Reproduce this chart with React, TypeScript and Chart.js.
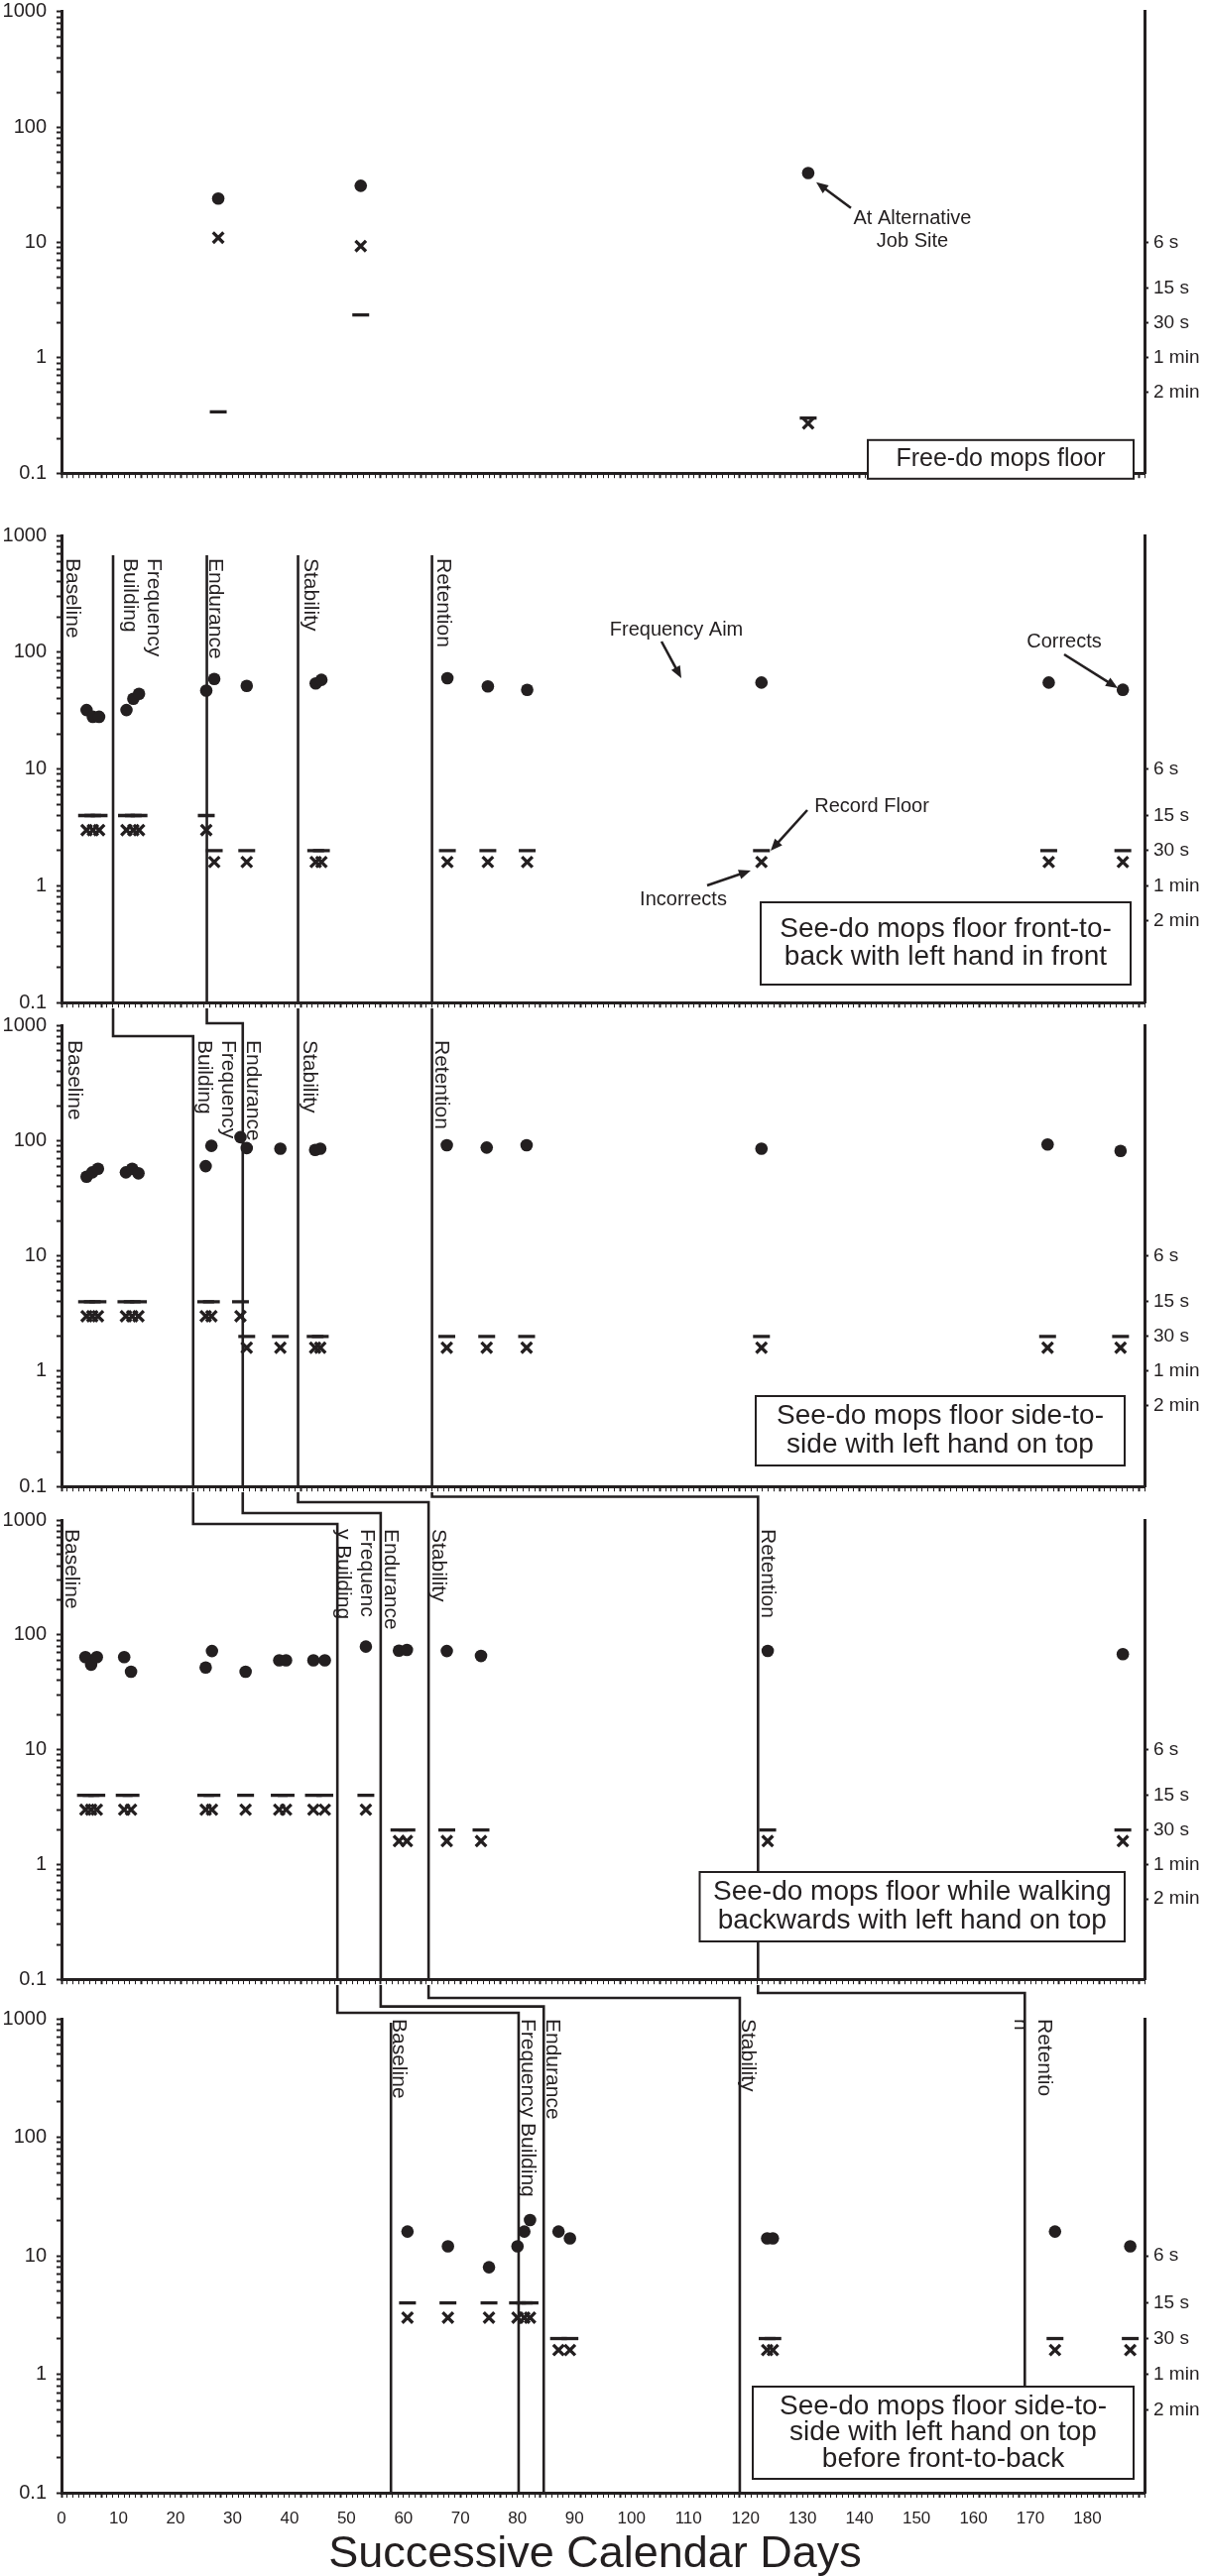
import React, { useEffect, useRef } from 'react';
import { Chart, registerables } from 'chart.js';

Chart.register(...registerables);

const INK = '#231f20';
const FONT = "'Liberation Sans', Arial, Helvetica, sans-serif";
Chart.defaults.font.family = FONT;
Chart.defaults.color = INK;

// ---------------- axes ----------------
const DAY_MIN = 0;
const DAY_MAX = 190;
const DAY_TICKS = Array.from({ length: DAY_MAX - DAY_MIN + 1 }, (_, i) => DAY_MIN + i);
const X_TICK_LABELS = [0, 10, 20, 30, 40, 50, 60, 70, 80, 90, 100, 110, 120, 130, 140, 150, 160, 170, 180];
const X_TITLE = 'Successive Calendar Days';
const Y_MIN = 0.1;
const Y_MAX = 1000;
const Y_MAJOR_VALUES = [0.1, 1, 10, 100, 1000];
const Y_MAJOR_LABELS = ['0.1', '1', '10', '100', '1000'];
const Y_MINOR_MULTIPLIERS = [2, 3, 4, 5, 6, 7, 8, 9];
const TIME_VALUES = [10, 4, 2, 1, 0.5];
const TIME_LABELS = ['6 s', '15 s', '30 s', '1 min', '2 min'];

// ---------------- panel 1: Free-do mops floor ----------------
const p1Days = [27.5, 52.5, 131];
const p1Corrects = [24, 31, 40];
const p1Incorrects = [11, 9.3, 0.27];
const p1Floors = [0.34, 2.35, 0.3];

// ---------------- panel 2: front-to-back ----------------
const p2Days = [4.4, 5.5, 6.6, 11.4, 12.6, 13.6, 25.4, 26.8, 32.5, 44.6, 45.6, 67.7, 74.8, 81.7, 122.8, 173.2, 186.2];
const p2Corrects = [32, 28, 28, 32, 40, 44, 47, 59, 51.5, 54, 58, 60, 51, 47.6, 55, 55, 47.7];
const p2Incorrects = [3, 3, 3, 3, 3, 3, 3, 1.6, 1.6, 1.6, 1.6, 1.6, 1.6, 1.6, 1.6, 1.6, 1.6];
const p2Floors = [4, 4, 4, 4, 4, 4, 4, 2, 2, 2, 2, 2, 2, 2, 2, 2, 2];
const p2PhaseDays = [9.05, 25.5, 41.5, 65];
const p2PhaseLabels = [['Baseline'], ['Frequency', 'Building'], ['Endurance'], ['Stability'], ['Retention']];
const p2LabelDays = [0.8, 15.1, 25.9, 42.7, 65.9];

// ---------------- panel 3: side-to-side ----------------
const p3Days = [4.4, 5.4, 6.4, 11.3, 12.4, 13.5, 25.3, 26.3, 31.4, 32.5, 38.4, 44.5, 45.4, 67.6, 74.6, 81.6, 122.8, 173, 185.8];
const p3Corrects = [48.6, 53, 57, 53, 57, 52, 60, 90, 107, 86, 85, 83, 85, 91, 87, 91, 85, 92.6, 81.4];
const p3Incorrects = [3, 3, 3, 3, 3, 3, 3, 3, 3, 1.6, 1.6, 1.6, 1.6, 1.6, 1.6, 1.6, 1.6, 1.6, 1.6];
const p3Floors = [4, 4, 4, 4, 4, 4, 4, 4, 4, 2, 2, 2, 2, 2, 2, 2, 2, 2, 2];
const p3PhaseDays = [23.1, 31.8, 41.5, 65];
const p3PhaseLabels = [['Baseline'], ['Frequency', 'Building'], ['Endurance'], ['Stability'], ['Retention']];
const p3LabelDays = [1.2, 28.2, 32.6, 42.5, 65.6];

// ---------------- panel 4: walking backwards ----------------
const p4Days = [4.2, 5.2, 6.2, 11, 12.2, 25.3, 26.4, 32.3, 38.2, 39.4, 44.2, 46.2, 53.4, 59.2, 60.6, 67.6, 73.6, 123.9, 186.2];
const p4Corrects = [64, 55, 64, 64, 47.7, 52, 72.3, 47.7, 60, 60, 60, 60, 79, 72.8, 74, 72.3, 65.5, 72.4, 67.9];
const p4Incorrects = [3, 3, 3, 3, 3, 3, 3, 3, 3, 3, 3, 3, 3, 1.6, 1.6, 1.6, 1.6, 1.6, 1.6];
const p4Floors = [4, 4, 4, 4, 4, 4, 4, 4, 4, 4, 4, 4, 4, 2, 2, 2, 2, 2, 2];
const p4PhaseDays = [48.4, 56.0, 64.4, 122.2];
const p4PhaseLabels = [['Baseline'], ['Frequenc', 'y Building'], ['Endurance'], ['Stability'], ['Retention']];
const p4LabelDays = [0.7, 52.5, 56.8, 65.1, 122.9];

// ---------------- panel 5: side-to-side before front-to-back ----------------
const p5Days = [60.7, 67.8, 75, 80, 81.2, 82.2, 87.2, 89.2, 123.8, 124.8, 174.3, 187.5];
const p5Corrects = [16, 12, 8, 12, 16, 20, 16, 14, 14, 14, 16, 12];
const p5Incorrects = [3, 3, 3, 3, 3, 3, 1.6, 1.6, 1.6, 1.6, 1.6, 1.6];
const p5Floors = [4, 4, 4, 4, 4, 4, 2, 2, 2, 2, 2, 2];
const p5PhaseDays = [57.8, 80.2, 84.6, 119.0, 169.0];
const p5PhaseLabels = [['Baseline'], ['Frequency Building'], ['Endurance'], ['Stability'], ['Retentio', 'n']];
const p5LabelDays = [58.1, 80.7, 85, 119.3, 171.3];

// ---------------- layout / styling (page pixels) ----------------
const PAGE_W = 1215;
const PAGE_H = 2598;
const AREA_LEFT = 62;
const AREA_RIGHT = 1154;
const LAYOUT = [
  { top: 0, height: 489, padTop: 10, axisH: 6 },
  { top: 483, height: 540, padTop: 57, axisH: 6 },
  { top: 1017, height: 494, padTop: 17, axisH: 6 },
  { top: 1505, height: 503, padTop: 28, axisH: 6 },
  { top: 2002, height: 596, padTop: 34, axisH: 84 },
];
const PHASE_LINE_WIDTH = 2.6;
const LABEL_SIZE = 21;
const LABEL_LINE_GAP = 24;
const NOTE_SIZE = 20;
const TITLE_SIZE = 45;
const TITLE_X = 600;

const PANELS = [
  {
    days: p1Days, corrects: p1Corrects, incorrects: p1Incorrects, floors: p1Floors,
    phaseDays: [], labels: [], labelDays: [], labelTopRel: 0,
    notes: [
      { kind: 'text', lines: ['At Alternative', 'Job Site'], x: 858, y: 220.5, lineH: 23 },
      { kind: 'arrow', x1: 796, y1: 198, x2: 761, y2: 172 },
      { kind: 'box', lines: ['Free-do mops floor'], x: 813, y: 432, w: 268, h: 39, lineH: 28, size: 25 },
    ],
  },
  {
    days: p2Days, corrects: p2Corrects, incorrects: p2Incorrects, floors: p2Floors,
    phaseDays: p2PhaseDays, prevPhaseDays: null, phaseStartRel: 20,
    labels: p2PhaseLabels, labelDays: p2LabelDays, labelTopRel: 23,
    notes: [
      { kind: 'text', lines: ['Frequency Aim'], x: 620, y: 95 },
      { kind: 'arrow', x1: 605, y1: 107, x2: 625, y2: 144 },
      { kind: 'text', lines: ['Record Floor'], x: 817, y: 273 },
      { kind: 'arrow', x1: 752, y1: 277, x2: 715, y2: 318 },
      { kind: 'text', lines: ['Incorrects'], x: 627, y: 367 },
      { kind: 'arrow', x1: 651, y1: 353, x2: 695, y2: 338 },
      { kind: 'text', lines: ['Corrects'], x: 1011, y: 107 },
      { kind: 'arrow', x1: 1011, y1: 120, x2: 1065, y2: 154 },
      { kind: 'box', lines: ['See-do mops floor front-to-', 'back with left hand in front'], x: 705, y: 370, w: 373, h: 83, lineH: 28, size: 28 },
    ],
  },
  {
    days: p3Days, corrects: p3Corrects, incorrects: p3Incorrects, floors: p3Floors,
    phaseDays: p3PhaseDays, prevPhaseDays: p2PhaseDays, stepY: [28, 15, 0, 0],
    labels: p3PhaseLabels, labelDays: p3LabelDays, labelTopRel: 15,
    notes: [
      { kind: 'box', lines: ['See-do mops floor side-to-', 'side with left hand on top'], x: 700, y: 374, w: 372, h: 70, lineH: 29, size: 28 },
    ],
  },
  {
    days: p4Days, corrects: p4Corrects, incorrects: p4Incorrects, floors: p4Floors,
    phaseDays: p4PhaseDays, prevPhaseDays: p3PhaseDays, stepY: [32, 21, 10, 4.5],
    labels: p4PhaseLabels, labelDays: p4LabelDays, labelTopRel: 9,
    notes: [
      { kind: 'box', lines: ['See-do mops floor while walking', 'backwards with left hand on top'], x: 643.5, y: 355, w: 428.5, h: 70, lineH: 29, size: 28 },
    ],
  },
  {
    days: p5Days, corrects: p5Corrects, incorrects: p5Incorrects, floors: p5Floors,
    phaseDays: p5PhaseDays, prevPhaseDays: [null, ...p4PhaseDays], stepY: [0, 28, 21.6, 13, 8],
    phaseStartRel: 4, phaseEndRel: [null, null, null, null, 371],
    labels: p5PhaseLabels, labelDays: p5LabelDays, labelTopRel: 0,
    notes: [
      { kind: 'box', lines: ['See-do mops floor side-to-', 'side with left hand on top', 'before front-to-back'], x: 697, y: 371, w: 384, h: 93, lineH: 26.5, size: 28 },
    ],
  },
];

const LEFT_TICKS: number[] = (() => {
  const out: number[] = [];
  for (let i = 0; i < Y_MAJOR_VALUES.length - 1; i++) {
    out.push(Y_MAJOR_VALUES[i]);
    Y_MINOR_MULTIPLIERS.forEach((m) => out.push(Y_MAJOR_VALUES[i] * m));
  }
  out.push(Y_MAJOR_VALUES[Y_MAJOR_VALUES.length - 1]);
  return out;
})();

function drawArrow(ctx: CanvasRenderingContext2D, x1: number, y1: number, x2: number, y2: number) {
  const a = Math.atan2(y2 - y1, x2 - x1);
  const head = 12;
  const hw = 5;
  const c = Math.cos(a);
  const s = Math.sin(a);
  ctx.beginPath();
  ctx.moveTo(x1, y1);
  ctx.lineTo(x2 - head * 0.8 * c, y2 - head * 0.8 * s);
  ctx.stroke();
  ctx.beginPath();
  ctx.moveTo(x2, y2);
  ctx.lineTo(x2 - head * c + hw * s, y2 - head * s - hw * c);
  ctx.lineTo(x2 - head * c - hw * s, y2 - head * s + hw * c);
  ctx.closePath();
  ctx.fill();
}

function makeDecor(p: any, idx: number, isLast: boolean) {
  return {
    id: 'panelDecor' + idx,
    beforeDatasetsDraw(chart: any) {
      const { ctx, chartArea, scales } = chart;
      const xs = scales.x;
      ctx.save();
      ctx.strokeStyle = INK;
      ctx.lineWidth = PHASE_LINE_WIDTH;
      ctx.lineJoin = 'miter';
      p.phaseDays.forEach((day: number, i: number) => {
        const xn = xs.getPixelForValue(day);
        const endRel = p.phaseEndRel ? p.phaseEndRel[i] : null;
        const yEnd = endRel != null ? chartArea.top + endRel : chartArea.bottom;
        const prev = p.prevPhaseDays ? p.prevPhaseDays[i] : null;
        ctx.beginPath();
        if (prev != null) {
          const xp = xs.getPixelForValue(prev);
          const sy = p.stepY[i];
          ctx.moveTo(xp, 0);
          ctx.lineTo(xp, sy);
          ctx.lineTo(xn, sy);
          ctx.lineTo(xn, yEnd);
        } else {
          ctx.moveTo(xn, chartArea.top + p.phaseStartRel);
          ctx.lineTo(xn, yEnd);
        }
        ctx.stroke();
      });
      ctx.restore();
    },
    afterDraw(chart: any) {
      const { ctx, chartArea, scales } = chart;
      const xs = scales.x;
      const L = chartArea.left;
      const T = chartArea.top;
      ctx.save();
      ctx.fillStyle = INK;
      ctx.strokeStyle = INK;
      p.notes.forEach((n: any) => {
        if (n.kind !== 'box') return;
        ctx.fillStyle = '#ffffff';
        ctx.fillRect(L + n.x, T + n.y, n.w, n.h);
        ctx.lineWidth = 2;
        ctx.strokeStyle = INK;
        ctx.strokeRect(L + n.x, T + n.y, n.w, n.h);
        ctx.fillStyle = INK;
        ctx.font = `${n.size}px ${FONT}`;
        ctx.textAlign = 'center';
        ctx.textBaseline = 'middle';
        const cx = L + n.x + n.w / 2;
        const cy = T + n.y + n.h / 2;
        n.lines.forEach((t: string, j: number) => {
          ctx.fillText(t, cx, cy + (j - (n.lines.length - 1) / 2) * n.lineH);
        });
      });
      ctx.fillStyle = INK;
      ctx.font = `${LABEL_SIZE}px ${FONT}`;
      p.labels.forEach((lines: string[], i: number) => {
        const bx = xs.getPixelForValue(p.labelDays[i]);
        lines.forEach((t: string, j: number) => {
          ctx.save();
          ctx.translate(bx - j * LABEL_LINE_GAP, T + p.labelTopRel);
          ctx.rotate(Math.PI / 2);
          ctx.textAlign = 'left';
          ctx.textBaseline = 'alphabetic';
          ctx.fillText(t, 0, 0);
          ctx.restore();
        });
      });
      p.notes.forEach((n: any) => {
        if (n.kind === 'text') {
          ctx.font = `${NOTE_SIZE}px ${FONT}`;
          ctx.textAlign = 'center';
          ctx.textBaseline = 'middle';
          const lh = n.lineH || 23;
          n.lines.forEach((t: string, j: number) => {
            ctx.fillText(t, L + n.x, T + n.y + (j - (n.lines.length - 1) / 2) * lh);
          });
        } else if (n.kind === 'arrow') {
          ctx.lineWidth = 2.6;
          drawArrow(ctx, L + n.x1, T + n.y1, L + n.x2, T + n.y2);
        }
      });
      if (isLast) {
        ctx.font = `${TITLE_SIZE}px ${FONT}`;
        ctx.textAlign = 'center';
        ctx.textBaseline = 'middle';
        ctx.fillText(X_TITLE, TITLE_X, chartArea.bottom + 63);
      }
      ctx.restore();
    },
  };
}

function buildConfig(p: any, idx: number) {
  const lay = LAYOUT[idx];
  const isLast = idx === PANELS.length - 1;
  const pts = (vals: number[]) => p.days.map((d: number, i: number) => ({ x: d, y: vals[i] }));
  return {
    type: 'scatter',
    data: {
      datasets: [
        { label: 'Corrects', data: pts(p.corrects), pointStyle: 'circle', pointRadius: 6.3, pointHoverRadius: 6.3, pointBackgroundColor: INK, pointBorderColor: INK, pointBorderWidth: 0, yAxisID: 'y' },
        { label: 'Incorrects', data: pts(p.incorrects), pointStyle: 'crossRot', pointRadius: 7.5, pointHoverRadius: 7.5, pointBackgroundColor: INK, pointBorderColor: INK, pointBorderWidth: 3.3, yAxisID: 'y' },
        { label: 'Record Floor', data: pts(p.floors), pointStyle: 'line', pointRadius: 8.5, pointHoverRadius: 8.5, pointBackgroundColor: INK, pointBorderColor: INK, pointBorderWidth: 3.3, yAxisID: 'y' },
      ],
    },
    options: {
      animation: false,
      responsive: false,
      maintainAspectRatio: false,
      events: [],
      layout: { padding: { top: lay.padTop, left: 0, right: 0, bottom: 0 } },
      plugins: { legend: { display: false }, tooltip: { enabled: false }, title: { display: false } },
      scales: {
        x: {
          type: 'linear',
          position: 'bottom',
          min: DAY_MIN,
          max: DAY_MAX,
          afterBuildTicks: (s: any) => { s.ticks = DAY_TICKS.map((v) => ({ value: v })); },
          afterFit: (s: any) => { s.height = lay.axisH; s.paddingLeft = 0; s.paddingRight = 0; },
          ticks: {
            autoSkip: false,
            maxRotation: 0,
            minRotation: 0,
            padding: 11,
            color: INK,
            font: { size: 17, family: FONT },
            callback: (v: number) => (isLast && X_TICK_LABELS.includes(v) ? String(v) : ''),
          },
          grid: {
            display: true,
            drawOnChartArea: false,
            drawTicks: true,
            tickLength: 5,
            tickColor: INK,
            tickWidth: (c: any) => (c.tick && c.tick.value % 7 === 0 ? 2 : 1),
          },
          border: { display: true, width: 3, color: INK },
        },
        y: {
          type: 'logarithmic',
          position: 'left',
          min: Y_MIN,
          max: Y_MAX,
          afterBuildTicks: (s: any) => { s.ticks = LEFT_TICKS.map((v) => ({ value: v })); },
          afterFit: (s: any) => { s.width = AREA_LEFT; s.paddingTop = 0; s.paddingBottom = 0; },
          ticks: {
            autoSkip: false,
            padding: 10,
            color: INK,
            font: { size: 20, family: FONT },
            callback: (v: number) => {
              const k = Y_MAJOR_VALUES.findIndex((m) => Math.abs(m - v) / m < 1e-6);
              return k >= 0 ? Y_MAJOR_LABELS[k] : '';
            },
          },
          grid: { display: true, drawOnChartArea: false, drawTicks: true, tickLength: 5, tickColor: INK, tickWidth: 2 },
          border: { display: true, width: 3, color: INK },
        },
        y2: {
          type: 'logarithmic',
          position: 'right',
          min: Y_MIN,
          max: Y_MAX,
          afterBuildTicks: (s: any) => { s.ticks = TIME_VALUES.map((v) => ({ value: v })); },
          afterFit: (s: any) => { s.width = PAGE_W - AREA_RIGHT; s.paddingTop = 0; s.paddingBottom = 0; },
          ticks: {
            autoSkip: false,
            padding: 5,
            color: INK,
            font: { size: 19, family: FONT },
            callback: (_v: number, i: number) => TIME_LABELS[i],
          },
          grid: { display: true, drawOnChartArea: false, drawTicks: true, tickLength: 4, tickColor: INK, tickWidth: 2 },
          border: { display: true, width: 3, color: INK },
        },
      },
    },
    plugins: [makeDecor(p, idx, isLast)],
  };
}

export default function App() {
  const canvases = useRef<(HTMLCanvasElement | null)[]>([]);
  useEffect(() => {
    const charts = PANELS.map((p, i) => new Chart(canvases.current[i] as HTMLCanvasElement, buildConfig(p, i) as any));
    return () => charts.forEach((c) => c.destroy());
  }, []);
  return (
    <div style={{ position: 'absolute', left: 0, top: 0, width: PAGE_W, height: PAGE_H, background: '#ffffff', overflow: 'hidden' }}>
      {LAYOUT.map((l, i) => (
        <canvas
          key={i}
          ref={(el) => { canvases.current[i] = el; }}
          width={PAGE_W}
          height={l.height}
          style={{ position: 'absolute', left: 0, top: l.top, width: PAGE_W, height: l.height, display: 'block' }}
        />
      ))}
    </div>
  );
}
